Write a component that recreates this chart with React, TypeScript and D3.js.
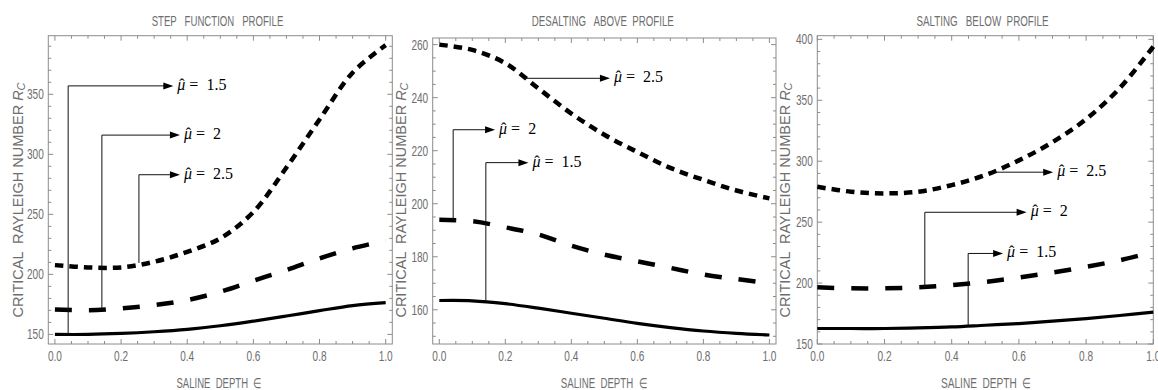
import React from 'react';
import * as d3 from 'd3';

// ---------- data ----------
const depth = [0, 0.1, 0.2, 0.3, 0.4, 0.5, 0.6, 0.7, 0.8, 0.9, 1.0];

// Step function profile
const stepMu15 = [150, 150, 150.8, 152.2, 154.2, 157.2, 161, 165.3, 169.8, 174, 176.5];
const stepMu2 = [170.8, 170.2, 171.7, 174.4, 178.6, 185.5, 194.7, 203.6, 213.3, 221.7, 228];
const stepMu25 = [207.7, 205.8, 205.8, 210.5, 218.8, 230, 252, 289, 329, 368, 391];

// Desalting above profile
const desMu15 = [163.5, 163.4, 162.3, 160.6, 158.7, 156.8, 154.9, 153.3, 152, 151.1, 150.5];
const desMu2 = [194, 193.4, 191.1, 188.4, 184.2, 180.8, 178.3, 175.8, 173.3, 171.6, 170];
const desMu25 = [260, 258, 253, 243.5, 234, 226, 219.5, 213.5, 209, 205, 202];

// Salting below profile
const saltMu15 = [162.7, 162.7, 162.7, 163.2, 164, 165.4, 166.8, 168.7, 170.9, 173.4, 176.2];
const saltMu2 = [196.5, 195.7, 195.7, 196.5, 198.4, 201, 204.6, 208.7, 213.3, 218.7, 225.5];
const saltMu25 = [279, 275, 273.6, 275, 280.4, 288.6, 300.7, 315.6, 334.5, 360, 394];

const titles = ['STEP   FUNCTION   PROFILE', 'DESALTING   ABOVE  PROFILE', 'SALTING   BELOW  PROFILE'];
const xLabel = 'SALINE  DEPTH  \u2208';
const yLabel = 'CRITICAL  RAYLEIGH NUMBER ';
const xTicks = [0, 0.2, 0.4, 0.6, 0.8, 1.0];
const yTicks1 = [150, 200, 250, 300, 350];
const yTicks2 = [160, 180, 200, 220, 240, 260];
const yTicks3 = [150, 200, 250, 300, 350, 400];
const muLabels = ['1.5', '2', '2.5'];

// annotations: [muIndex, xStart, yStart, yCorner, xTip]
const stepNotes = [
  [0, 0.04, 150, 357, 0.358],
  [1, 0.142, 170.2, 316, 0.378],
  [2, 0.254, 209.5, 283, 0.378],
];
const desNotes = [
  [2, 0.255, 247.3, 247.3, 0.517],
  [1, 0.042, 194, 227.9, 0.169],
  [0, 0.141, 163.3, 215.5, 0.27],
];
const saltNotes = [
  [2, 0.528, 291, 291, 0.702],
  [1, 0.32, 196.5, 258.1, 0.623],
  [0, 0.449, 165, 224.3, 0.553],
];

// ---------- layout ----------
const panels = [
  {
    frame: { l: 48.3, t: 35.7, r: 392.3, b: 344 },
    xDom: [-0.02, 1.02], yDom: [142, 398.8], yTicks: yTicks1, yMinor: 10,
    series: [stepMu15, stepMu2, stepMu25], notes: stepNotes,
    title: titles[0], titleX: 217.5, titleLen: 131.6,
    xLabX: 219, xLabLen: 85, yLabX: 23,
  },
  {
    frame: { l: 432.7, t: 38, r: 776, b: 344 },
    xDom: [-0.02, 1.02], yDom: [147.1, 262.5], yTicks: yTicks2, yMinor: 5,
    series: [desMu15, desMu2, desMu25], notes: desNotes,
    title: titles[1], titleX: 602.8, titleLen: 142,
    xLabX: 603.8, xLabLen: 86, yLabX: 406,
  },
  {
    frame: { l: 817.3, t: 35.7, r: 1153.3, b: 344 },
    xDom: [0, 1], yDom: [150, 403], yTicks: yTicks3, yMinor: 10,
    series: [saltMu15, saltMu2, saltMu25], notes: saltNotes,
    title: titles[2], titleX: 982.5, titleLen: 132,
    xLabX: 986, xLabLen: 90, yLabX: 790,
  },
];

const seriesStyle = [
  { w: 3.2, dash: undefined },
  { w: 4.5, dash: '17 17' },
  { w: 4.5, dash: '8.5 6' },
];

const FRAME = '#8c8c8c';
const TXT = '#6e6e6e';

function CondText({ x, y, anchor, size = 14, sx = 0.72, children, dy }: any) {
  return (
    <g transform={`translate(${x},${y}) scale(${sx},1)`}>
      <text textAnchor={anchor} fontSize={size} fontFamily="Liberation Sans, Arial, sans-serif" fill={TXT} dy={dy}>
        {children}
      </text>
    </g>
  );
}

function Panel({ p }: any) {
  const { frame } = p;
  const x = d3.scaleLinear().domain(p.xDom).range([frame.l, frame.r]);
  const y = d3.scaleLinear().domain(p.yDom).range([frame.b, frame.t]);
  const line = d3
    .line<number>()
    .x((_, i) => x(depth[i]))
    .y((d) => y(d))
    .curve(d3.curveCatmullRom.alpha(0.5));

  const xMinor = d3.range(0, 1.0001, 0.05).filter((v) => Math.abs((v * 5) % 1) > 1e-6 && Math.abs((v * 5) % 1 - 1) > 1e-6);
  const yMinorVals: number[] = [];
  const y0 = Math.ceil(p.yDom[0] / p.yMinor) * p.yMinor;
  for (let v = y0; v <= p.yDom[1]; v += p.yMinor) {
    if (!p.yTicks.includes(v)) yMinorVals.push(v);
  }
  const MJ = 5, MN = 3;

  return (
    <g>
      <rect x={frame.l} y={frame.t} width={frame.r - frame.l} height={frame.b - frame.t} fill="none" stroke={FRAME} strokeWidth={1} />
      {xTicks.map((v) => (
        <g key={'xt' + v}>
          <line x1={x(v)} x2={x(v)} y1={frame.b} y2={frame.b - MJ} stroke={FRAME} />
          <line x1={x(v)} x2={x(v)} y1={frame.t} y2={frame.t + MJ} stroke={FRAME} />
          <CondText x={x(v)} y={360.5} anchor="middle">{v.toFixed(1)}</CondText>
        </g>
      ))}
      {xMinor.map((v) => (
        <g key={'xm' + v}>
          <line x1={x(v)} x2={x(v)} y1={frame.b} y2={frame.b - MN} stroke={FRAME} />
          <line x1={x(v)} x2={x(v)} y1={frame.t} y2={frame.t + MN} stroke={FRAME} />
        </g>
      ))}
      {p.yTicks.map((v: number) => (
        <g key={'yt' + v}>
          <line x1={frame.l} x2={frame.l + MJ} y1={y(v)} y2={y(v)} stroke={FRAME} />
          <line x1={frame.r} x2={frame.r - MJ} y1={y(v)} y2={y(v)} stroke={FRAME} />
          <CondText x={frame.l - 4.5} y={y(v)} anchor="end" dy="0.35em">{v}</CondText>
        </g>
      ))}
      {yMinorVals.map((v) => (
        <g key={'ym' + v}>
          <line x1={frame.l} x2={frame.l + MN} y1={y(v)} y2={y(v)} stroke={FRAME} />
          <line x1={frame.r} x2={frame.r - MN} y1={y(v)} y2={y(v)} stroke={FRAME} />
        </g>
      ))}
      {p.series.map((s: number[], i: number) => (
        <path key={'s' + i} d={line(s) || ''} fill="none" stroke="#000" strokeWidth={seriesStyle[i].w} strokeDasharray={seriesStyle[i].dash} />
      ))}
      {p.notes.map((n: number[], i: number) => {
        const [mi, xs, ys, yc, xt] = n;
        const px = x(xs), py0 = y(ys), pyc = y(yc), ptip = x(xt);
        const d = `M${px},${py0} L${px},${pyc} L${ptip - 9},${pyc}`;
        const tx = ptip + 4;
        return (
          <g key={'n' + i}>
            <path d={d} fill="none" stroke="#111" strokeWidth={1} />
            <path d={`M${ptip},${pyc} L${ptip - 10},${pyc - 3.5} L${ptip - 10},${pyc + 3.5} Z`} fill="#000" />
            <text x={tx} y={pyc + 4} fontFamily="Liberation Serif, Times New Roman, serif" fontSize={16} fill="#000" style={{ whiteSpace: 'pre' }}>
              <tspan fontStyle="italic">{'\u03bc'}</tspan>
              <tspan>{' =  ' + muLabels[mi]}</tspan>
            </text>
            <text x={tx + 4.5} y={pyc + 4} textAnchor="middle" fontFamily="Liberation Serif, Times New Roman, serif" fontSize={16} fill="#000">
              {'\u02c6'}
            </text>
          </g>
        );
      })}
      <text x={p.titleX} y={25.5} textAnchor="middle" fontSize={14} fontFamily="Liberation Sans, Arial, sans-serif" fill={TXT} textLength={p.titleLen} lengthAdjust="spacingAndGlyphs" style={{ whiteSpace: 'pre' }}>
        {p.title}
      </text>
      <text x={p.xLabX} y={388} textAnchor="middle" fontSize={14} fontFamily="Liberation Sans, Arial, sans-serif" fill={TXT} textLength={p.xLabLen} lengthAdjust="spacingAndGlyphs" style={{ whiteSpace: 'pre' }}>
        {xLabel}
      </text>
      <text transform={`translate(${p.yLabX},200) rotate(-90)`} textAnchor="middle" fontSize={14.5} fontFamily="Liberation Sans, Arial, sans-serif" fill={TXT} style={{ whiteSpace: 'pre' }}>
        {yLabel}
        <tspan fontStyle="italic">R</tspan>
        <tspan fontStyle="italic" fontSize={11} dy={2}>C</tspan>
      </text>
    </g>
  );
}

export default function App() {
  return (
    <svg width={1158} height={390} style={{ position: 'absolute', left: 0, top: 0, background: '#fff' }}>
      <rect x={0} y={0} width={1158} height={390} fill="#fff" />
      {panels.map((p, i) => (
        <Panel key={i} p={p} />
      ))}
    </svg>
  );
}
